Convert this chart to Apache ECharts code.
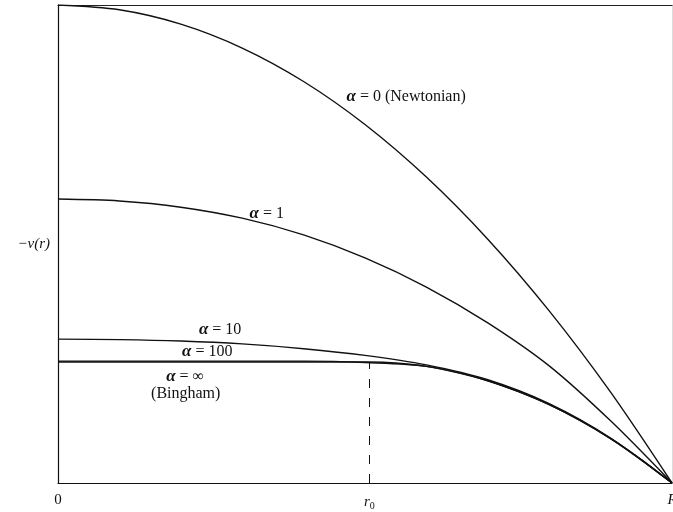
<!DOCTYPE html>
<html>
<head>
<meta charset="utf-8">
<script src="https://cdn.jsdelivr.net/npm/echarts@6/dist/echarts.min.js"></script>
<style>html,body{margin:0;padding:0;background:#fff}#c{width:673px;height:512px}</style>
</head>
<body>
<div id="c"></div>
<script>
// Radial position r/R
const rGrid = [0, 0.1, 0.2, 0.3, 0.4, 0.5, 0.6, 0.7, 0.8, 0.9, 1.0];
const vNewtonian = [1.0, 0.99, 0.96, 0.91, 0.84, 0.75, 0.64, 0.51, 0.36, 0.19, 0];
const vAlpha1 = [0.594, 0.590, 0.577, 0.554, 0.519, 0.471, 0.410, 0.335, 0.245, 0.130, 0];
const vAlpha10 = [0.301, 0.300, 0.297, 0.291, 0.281, 0.267, 0.247, 0.216, 0.166, 0.094, 0];
const vAlpha100 = [0.255, 0.255, 0.255, 0.255, 0.255, 0.252, 0.244, 0.214, 0.164, 0.093, 0];
const rBingham = [0, 0.507, 0.55, 0.6, 0.65, 0.7, 0.75, 0.8, 0.85, 0.9, 0.95, 1.0];
const vBingham = [0.253, 0.253, 0.251, 0.244, 0.231, 0.214, 0.191, 0.164, 0.131, 0.093, 0.049, 0];
const r0 = 0.507;
const tickValues = [0, r0, 1];
const tickLabels = ['0', '{i|r}{s|0}', '{i|R}'];

const FONT = '"Liberation Serif", "DejaVu Serif", serif';
const pairs = (xs, ys) => xs.map((x, i) => [x, ys[i]]);
const lineStyle = { color: '#111', width: 1.4 };
const rich = {
  a: { fontFamily: FONT, fontSize: 17, fontStyle: 'italic', fontWeight: 'bold', color: '#111' },
  t: { fontFamily: FONT, fontSize: 16, color: '#111' },
  n: { fontFamily: FONT, fontSize: 16, color: '#111' }
};
function note(x, y, text) {
  return {
    coord: [x, y], symbol: 'circle', symbolSize: 1,
    itemStyle: { color: 'rgba(0,0,0,0)' },
    label: { show: true, position: 'inside', formatter: text, rich: rich, color: '#111' }
  };
}
const noAxisBits = { axisTick: { show: false }, axisLabel: { show: false }, splitLine: { show: false } };

const chart = echarts.init(document.getElementById('c'), null, { renderer: 'canvas' });
chart.setOption({
  backgroundColor: '#fff',
  animation: false,
  grid: { left: 58, right: 1, top: 5, bottom: 29, containLabel: false, outerBoundsMode: 'none' },
  xAxis: [{
    type: 'value', min: 0, max: 1,
    axisLine: { show: true, onZero: false, lineStyle: { color: '#111', width: 1.2 } },
    axisTick: { show: false },
    splitLine: { show: false },
    axisLabel: {
      customValues: tickValues,
      margin: 10,
      hideOverlap: false,
      fontFamily: FONT, fontSize: 15, color: '#111',
      formatter: function (v) {
        const i = tickValues.findIndex(t => Math.abs(t - v) < 1e-6);
        return i >= 0 ? tickLabels[i] : '';
      },
      rich: {
        i: { fontFamily: FONT, fontSize: 15, fontStyle: 'italic', color: '#111' },
        s: { fontFamily: FONT, fontSize: 10, color: '#111', padding: [8, 0, 0, 0] }
      }
    }
  }, Object.assign({
    type: 'value', min: 0, max: 1, position: 'top',
    axisLine: { show: true, onZero: false, lineStyle: { color: '#222', width: 1.2 } }
  }, noAxisBits)],
  yAxis: [Object.assign({
    type: 'value', min: 0, max: 1, position: 'left',
    name: '−v(r)', nameLocation: 'middle', nameRotate: 0, nameGap: 8,
    nameTextStyle: { fontFamily: FONT, fontSize: 15, fontStyle: 'italic', color: '#111' },
    axisLine: { show: true, onZero: false, lineStyle: { color: '#111', width: 1.2 } }
  }, noAxisBits), Object.assign({
    type: 'value', min: 0, max: 1, position: 'right',
    axisLine: { show: true, onZero: false, lineStyle: { color: '#dcdcdc', width: 1 } }
  }, noAxisBits)],
  series: [
    {
      name: 'α = 0 (Newtonian)', type: 'line', data: pairs(rGrid, vNewtonian),
      smooth: 0.3, showSymbol: false, lineStyle: lineStyle,
      markPoint: { data: [note(0.567, 0.808, '{a|α}{t| = 0 }{n|(Newtonian)}')] }
    },
    {
      name: 'α = 1', type: 'line', data: pairs(rGrid, vAlpha1),
      smooth: 0.3, showSymbol: false, lineStyle: lineStyle,
      markPoint: { data: [note(0.34, 0.563, '{a|α}{t| = 1}')] }
    },
    {
      name: 'α = 10', type: 'line', data: pairs(rGrid, vAlpha10),
      smooth: 0.3, showSymbol: false, lineStyle: lineStyle,
      markPoint: { data: [note(0.264, 0.320, '{a|α}{t| = 10}')] }
    },
    {
      name: 'α = 100', type: 'line', data: pairs(rGrid, vAlpha100),
      smooth: 0.3, showSymbol: false, lineStyle: lineStyle,
      markPoint: { data: [note(0.243, 0.274, '{a|α}{t| = 100}')] }
    },
    {
      name: 'α = ∞ (Bingham)', type: 'line', data: pairs(rBingham, vBingham),
      smooth: 0.3, showSymbol: false, lineStyle: lineStyle,
      markPoint: { data: [
        note(0.207, 0.222, '{a|α}{t| = ∞}'),
        note(0.208, 0.186, '{t|(Bingham)}')
      ] },
      markLine: {
        silent: true, symbol: 'none', label: { show: false },
        lineStyle: { color: '#111', width: 1, type: [9, 10] },
        data: [[{ coord: [r0, 0] }, { coord: [r0, vBingham[1]] }]]
      }
    }
  ]
});
</script>
</body>
</html>
